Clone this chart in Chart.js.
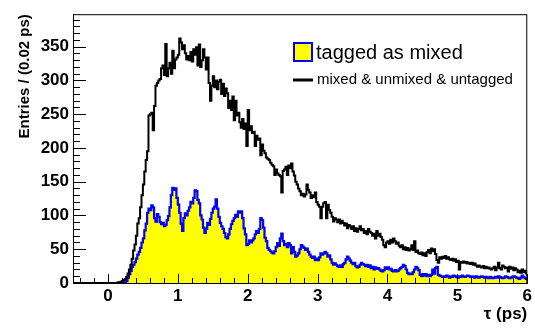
<!DOCTYPE html>
<html>
<head>
<meta charset="utf-8">
<script src="https://cdn.jsdelivr.net/npm/chart.js@4.4.1/dist/chart.umd.min.js"></script>
<style>
  html, body { margin: 0; padding: 0; background: #fff; }
  canvas { display: block; }
</style>
</head>
<body>
<canvas id="hist" width="535" height="330"></canvas>
<script>
// BINS: tau from -0.5 to 6.0 ps, 0.02 ps wide
const firstEdge = -0.5;
const binWidth = 0.02;
const xTicks = [0, 1, 2, 3, 4, 5, 6];
const yTicks = [0, 50, 100, 150, 200, 250, 300, 350];

// mixed & unmixed & untagged (one value per bin)
const allEvents = [
  0, 0, 0, 0, 0, 0, 0, 0, 0, 0,
  0, 0, 0, 0, 0, 0, 0, 0, 0, 0,
  0, 0, 0, 0, 0, 0, 0, 0, 0, 0,
  0, 0, 1, 1, 2,
  3, 4, 6, 9, 14, 20, 27, 36, 48, 57,              // 0.2
  70, 88, 96, 112, 130, 146, 165, 182, 195, 248,   // 0.4
  250, 252, 226, 262, 292, 296, 300, 302, 318, 322,
  308, 354, 306, 318, 326, 310, 344, 318, 331, 334,
  338, 362, 356, 346, 352, 340, 331, 336, 330, 342, // 1.0
  328, 346, 338, 349, 322, 353, 320, 330, 346, 334,
  316, 334, 296, 270, 292, 306, 290, 300, 287, 298,
  301, 280, 295, 277, 288, 281, 259, 270, 256, 276,
  241, 270, 248, 252, 238, 230, 243, 228, 236, 203,
  256, 226, 232, 222, 224, 203, 218, 212, 214, 189, // 2.0
  205, 196, 192, 186, 184, 182, 178, 175, 173, 160,
  168, 162, 160, 158, 134, 166, 168, 172, 160, 174,
  170, 177, 165, 159, 150, 146, 140, 136, 130, 132,
  128, 131, 146, 138, 134, 126, 130, 127, 134, 120,
  116, 113, 96, 113, 118, 120, 96, 116, 108, 104,   // 3.0
  98, 91, 96, 94, 90, 94, 88, 92, 89, 85,
  88, 81, 86, 84, 80, 84, 77, 81, 76, 80,
  84, 78, 80, 74, 77, 72, 80, 76, 74, 70,
  73, 66, 77, 70, 73, 68, 64, 56, 53, 60,
  62, 58, 64, 60, 66, 62, 58, 60, 55, 53,           // 4.0
  56, 50, 53, 49, 52, 48, 50, 56, 49, 62,
  46, 48, 44, 43, 45, 41, 44, 40, 46, 49,
  44, 51, 47, 50, 43, 34, 30, 38, 36, 39,
  37, 40, 36, 38, 35, 34, 36, 33, 35, 31,
  33, 20, 31, 30, 32, 30, 31, 29, 30, 28,           // 5.0
  30, 27, 29, 26, 24, 26, 24, 23, 25, 22,
  24, 22, 23, 21, 20, 22, 24, 19, 23, 30,
  22, 20, 26, 24, 22, 23, 17, 24, 21, 23,
  19, 22, 20, 16, 18, 15, 20, 16, 18, 14
];

// tagged as mixed
const taggedMixed = [
  0, 0, 0, 0, 0, 0, 0, 0, 0, 0,
  0, 0, 0, 0, 0, 0, 0, 0, 0, 0,
  0, 0, 0, 0, 0, 0, 0, 0, 0, 0,
  0, 0, 0, 0, 0,
  0, 0, 1, 3, 8, 13, 18, 24, 27, 31,               // 0.2
  36, 42, 46, 52, 60, 66, 78, 88, 104, 110,
  108, 115, 112, 96, 91, 102, 98, 90, 87, 89,
  84, 86, 93, 99, 112, 130, 141, 138, 140, 126,
  116, 104, 88, 77, 96, 103, 100, 107, 112, 120,   // 1.0
  118, 126, 137, 136, 123, 118, 100, 94, 82, 74,
  80, 89, 86, 95, 104, 110, 113, 124, 110, 98,
  89, 84, 80, 74, 68, 66, 72, 80, 87, 92,
  96, 101, 98, 106, 104, 106, 96, 81, 72, 56,
  58, 63, 60, 63, 66, 72, 77, 74, 80, 96,          // 2.0
  93, 82, 67, 62, 52, 49, 47, 45, 44, 47,
  53, 59, 55, 66, 73, 62, 56, 58, 53, 59,
  56, 44, 53, 46, 39, 41, 44, 50, 56, 54,
  52, 49, 51, 46, 42, 39, 37, 39, 34, 36,
  34, 38, 44, 42, 44, 46, 44, 39, 41, 35,          // 3.0
  30, 27, 29, 27, 25, 24, 26, 24, 28, 30,
  35, 39, 36, 33, 30, 28, 30, 25, 23, 24,
  27, 30, 28, 27, 25, 27, 24, 26, 22, 24,
  20, 23, 21, 22, 20, 18, 17, 19, 23, 21,
  23, 20, 21, 18, 17, 19, 17, 18, 20, 22,          // 4.0
  24, 27, 25, 20, 15, 13, 14, 13, 16, 20,
  24, 22, 19, 12, 10, 13, 11, 13, 10, 12,
  10, 12, 20, 14, 22, 24, 12, 11, 10, 9,
  10, 9, 11, 10, 8, 10, 9, 11, 10, 9,
  8, 10, 9, 11, 10, 9, 10, 11, 10, 9,              // 5.0
  10, 9, 8, 10, 9, 8, 9, 10, 9, 8,
  9, 8, 7, 9, 8, 7, 8, 9, 8, 10,
  9, 8, 7, 8, 10, 9, 8, 7, 8, 9,
  10, 9, 8, 7, 6, 8, 11, 9, 7, 6
];

const FONT = "'Liberation Sans', Arial, Helvetica, sans-serif";

// bin contents -> step points at the left edges, plus the last right edge
const toSteps = (vals) => {
  const pts = vals.map((v, i) => ({ x: firstEdge + i * binWidth, y: v }));
  pts.push({ x: firstEdge + vals.length * binWidth, y: vals[vals.length - 1] });
  return pts;
};

// ROOT-like frame, inward ticks, axis titles and legend
const rootStyle = {
  id: 'rootStyle',
  afterDraw(chart) {
    const { ctx, chartArea: a, scales: { x, y } } = chart;
    ctx.save();
    ctx.strokeStyle = '#000';
    ctx.lineWidth = 1;
    ctx.strokeRect(a.left + 0.5, a.top + 0.5, a.right - a.left - 1, a.bottom - a.top);

    ctx.beginPath();
    for (let k = 0; k * 10 < y.max; k++) {
      const py = Math.round(y.getPixelForValue(k * 10)) + 0.5;
      const len = k % 5 === 0 ? 13 : 7;
      ctx.moveTo(a.left, py);
      ctx.lineTo(a.left + len, py);
    }
    for (let k = -2; k <= 30; k++) {
      const px = Math.round(x.getPixelForValue(k / 5)) + 0.5;
      const len = k % 5 === 0 ? 9 : 5;
      ctx.moveTo(px, a.bottom);
      ctx.lineTo(px, a.bottom - len);
    }
    ctx.stroke();

    // axis titles
    ctx.fillStyle = '#000';
    ctx.font = 'bold 17px ' + FONT;
    ctx.textAlign = 'right';
    ctx.textBaseline = 'middle';
    ctx.fillText('\u03c4 (ps)', a.right, 314);
    ctx.save();
    ctx.translate(25, a.top);
    ctx.rotate(-Math.PI / 2);
    ctx.font = 'bold 15px ' + FONT;
    ctx.textAlign = 'right';
    ctx.fillText('Entries / (0.02 ps)', 0, 0);
    ctx.restore();

    // legend
    ctx.fillStyle = '#ffff00';
    ctx.fillRect(294, 43, 18, 18);
    ctx.strokeStyle = '#0000ff';
    ctx.lineWidth = 2;
    ctx.strokeRect(294, 43, 18, 18);
    ctx.fillStyle = '#000';
    ctx.textAlign = 'left';
    ctx.font = '20px ' + FONT;
    ctx.fillText('tagged as mixed', 316, 53);
    ctx.strokeStyle = '#000';
    ctx.lineWidth = 3;
    ctx.beginPath();
    ctx.moveTo(293, 80);
    ctx.lineTo(313, 80);
    ctx.stroke();
    ctx.font = '15px ' + FONT;
    ctx.fillText('mixed & unmixed & untagged', 317, 80);
    ctx.restore();
  }
};

new Chart(document.getElementById('hist'), {
  type: 'line',
  data: {
    datasets: [
      {
        label: 'mixed & unmixed & untagged',
        data: toSteps(allEvents),
        stepped: 'before',
        borderColor: '#000',
        borderWidth: 2,
        borderJoinStyle: 'miter',
        pointRadius: 0,
        fill: false
      },
      {
        label: 'tagged as mixed',
        data: toSteps(taggedMixed),
        stepped: 'before',
        borderColor: '#0000ff',
        borderWidth: 2.2,
        borderJoinStyle: 'miter',
        backgroundColor: '#ffff00',
        pointRadius: 0,
        fill: 'origin'
      }
    ]
  },
  options: {
    responsive: false,
    animation: false,
    events: [],
    layout: { padding: { top: 5, right: 7, left: 0, bottom: 0 } },
    plugins: { legend: { display: false }, tooltip: { enabled: false } },
    scales: {
      x: {
        type: 'linear',
        min: -0.5,
        max: 6,
        afterBuildTicks: (s) => { s.ticks = xTicks.map(v => ({ value: v })); },
        afterFit: (s) => { s.height = 47; },
        grid: { display: false, drawTicks: false },
        border: { color: '#000', width: 1 },
        ticks: { color: '#000', padding: 3, maxRotation: 0, font: { family: FONT, size: 17, weight: 'bold' } }
      },
      y: {
        min: 0,
        max: 398,
        afterBuildTicks: (s) => { s.ticks = yTicks.map(v => ({ value: v })); },
        afterFit: (s) => { s.width = 73; },
        grid: { display: false, drawTicks: false },
        border: { color: '#000', width: 1 },
        ticks: { color: '#000', padding: 4, font: { family: FONT, size: 17, weight: 'bold' } }
      }
    }
  },
  plugins: [rootStyle]
});
</script>
</body>
</html>
